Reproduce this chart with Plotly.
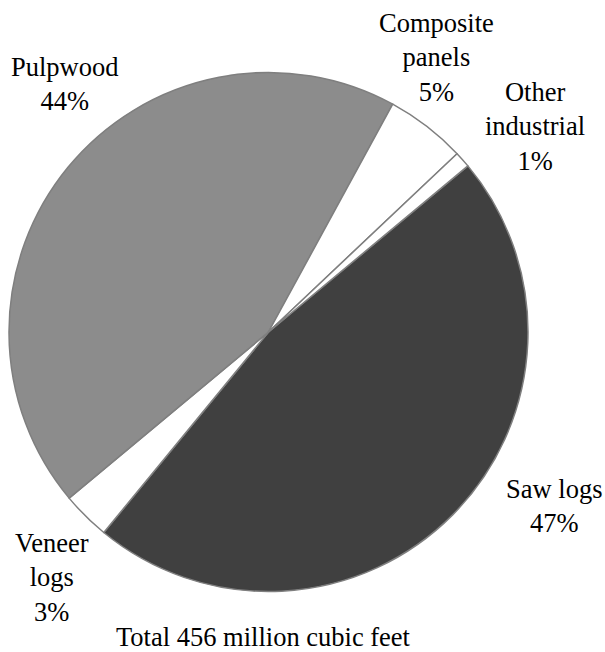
import plotly.graph_objects as go

categories = ["Saw logs", "Veneer logs", "Pulpwood", "Composite panels", "Other industrial"]
label_text = ["Saw logs", "Veneer<br>logs", "Pulpwood", "Composite<br>panels", "Other<br>industrial"]
percent = [47, 3, 44, 5, 1]
total_label = "Total 456 million cubic feet"

colors = ["#404040", "#ffffff", "#8c8c8c", "#ffffff", "#ffffff"]

W, H = 605, 652
# label centres in pixels (layout only)
label_pos = [(554, 506), (52, 577), (65, 84), (437, 57), (535, 126)]

fig = go.Figure()
fig.add_trace(go.Pie(
    labels=categories,
    values=percent,
    sort=False,
    direction="clockwise",
    rotation=50.2,
    marker=dict(colors=colors, line=dict(color="#7f7f7f", width=1.5)),
    textinfo="none",
    showlegend=False,
    domain=dict(x=[9 / W, 528 / W], y=[1 - 592 / H, 1 - 72 / H]),
))

FAM = "'Times New Roman', 'Liberation Serif', serif"
font = dict(family=FAM, size=26.5, color="#000000")
for txt, p, (px, py) in zip(label_text, percent, label_pos):
    fig.add_annotation(
        text=f"{txt}<br>{p}%", x=px / W, y=1 - py / H, xref="paper", yref="paper",
        xanchor="center", yanchor="middle", showarrow=False, font=font, align="center",
    )
fig.add_annotation(
    text=total_label, x=263.5 / W, y=1 - 637 / H, xref="paper", yref="paper",
    xanchor="center", yanchor="middle", showarrow=False, font=font,
)

fig.update_layout(
    width=W, height=H,
    margin=dict(l=0, r=0, t=0, b=0),
    paper_bgcolor="white", plot_bgcolor="white",
    font=dict(family=FAM),
)
fig.write_html("out.html", config={"displayModeBar": False},
               post_script="document.body.style.margin='0';document.body.style.overflow='hidden';")
